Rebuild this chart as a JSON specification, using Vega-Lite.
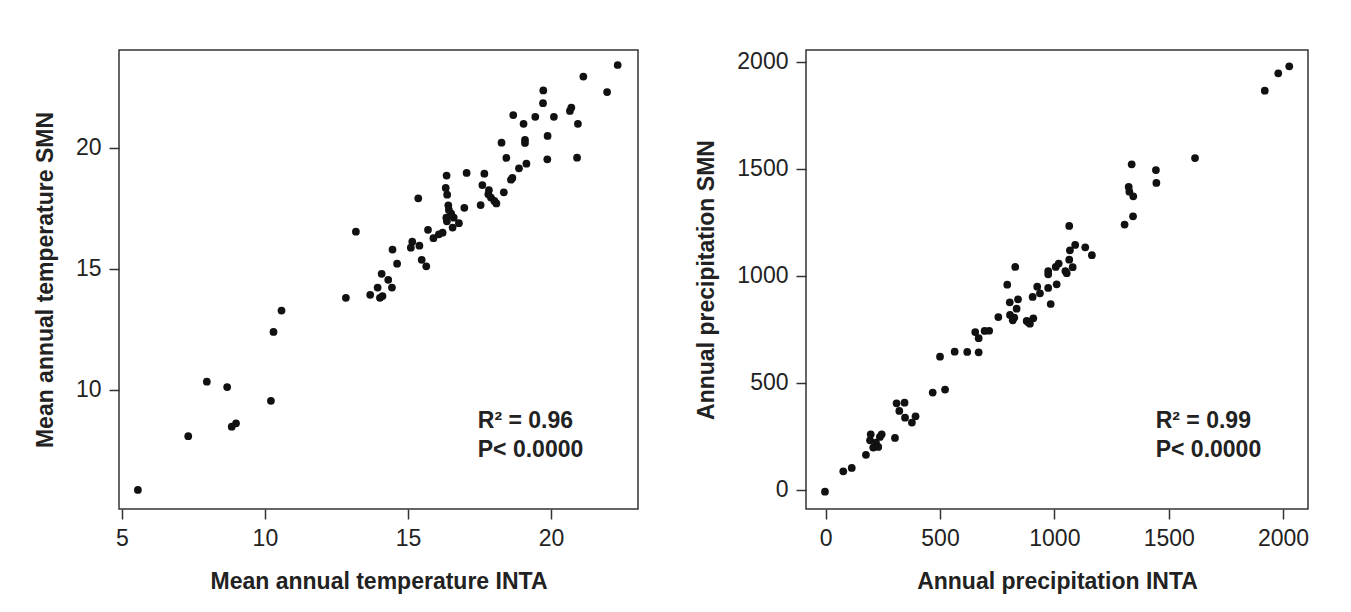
{
  "$schema": "https://vega.github.io/schema/vega-lite/v6.json",
  "background": "white",
  "padding": {"left": 33, "top": 49, "right": 5, "bottom": 5},
  "spacing": 56,
  "datasets": {
    "temp": [
      {"inta":22.33,"smn":23.43},{"inta":21.13,"smn":22.95},{"inta":21.96,"smn":22.31},{"inta":19.73,"smn":22.38},{"inta":19.72,"smn":21.85},{"inta":18.68,"smn":21.36},{"inta":19.45,"smn":21.29},{"inta":20.1,"smn":21.29},{"inta":19.04,"smn":21.0},{"inta":20.71,"smn":21.67},{"inta":20.66,"smn":21.53},{"inta":20.94,"smn":21.0},{"inta":19.88,"smn":20.5},{"inta":19.09,"smn":20.34},{"inta":19.09,"smn":20.21},{"inta":18.27,"smn":20.22},{"inta":18.44,"smn":19.59},{"inta":19.87,"smn":19.53},{"inta":20.91,"smn":19.6},{"inta":19.14,"smn":19.35},{"inta":18.88,"smn":19.16},{"inta":18.65,"smn":18.76},{"inta":18.6,"smn":18.69},{"inta":16.35,"smn":18.86},{"inta":17.05,"smn":18.97},{"inta":17.67,"smn":18.94},{"inta":16.32,"smn":18.35},{"inta":16.37,"smn":18.07},{"inta":17.6,"smn":18.47},{"inta":17.83,"smn":18.26},{"inta":18.35,"smn":18.17},{"inta":17.81,"smn":18.09},{"inta":17.9,"smn":17.95},{"inta":18.02,"smn":17.81},{"inta":18.09,"smn":17.71},{"inta":17.54,"smn":17.64},{"inta":16.97,"smn":17.53},{"inta":15.36,"smn":17.92},{"inta":16.41,"smn":17.63},{"inta":16.43,"smn":17.44},{"inta":16.51,"smn":17.29},{"inta":16.34,"smn":17.12},{"inta":16.36,"smn":16.97},{"inta":16.6,"smn":17.12},{"inta":16.78,"smn":16.89},{"inta":16.56,"smn":16.71},{"inta":16.21,"smn":16.5},{"inta":16.08,"smn":16.43},{"inta":15.89,"smn":16.27},{"inta":15.7,"smn":16.62},{"inta":15.15,"smn":16.13},{"inta":15.1,"smn":15.88},{"inta":15.4,"smn":15.96},{"inta":14.46,"smn":15.8},{"inta":14.62,"smn":15.22},{"inta":15.48,"smn":15.38},{"inta":15.64,"smn":15.11},{"inta":13.18,"smn":16.54},{"inta":14.08,"smn":14.8},{"inta":14.31,"smn":14.55},{"inta":14.44,"smn":14.23},{"inta":13.94,"smn":14.23},{"inta":14.11,"smn":13.88},{"inta":13.68,"smn":13.93},{"inta":14.02,"smn":13.81},{"inta":12.83,"smn":13.81},{"inta":10.58,"smn":13.28},{"inta":10.3,"smn":12.4},{"inta":7.97,"smn":10.34},{"inta":8.68,"smn":10.12},{"inta":10.21,"smn":9.55},{"inta":8.84,"smn":8.48},{"inta":8.99,"smn":8.62},{"inta":7.32,"smn":8.09},{"inta":5.56,"smn":5.87}
    ],
    "precip": [
      {"inta":2027,"smn":1980},{"inta":1979,"smn":1947},{"inta":1920,"smn":1866},{"inta":1615,"smn":1551},{"inta":1338,"smn":1522},{"inta":1444,"smn":1495},{"inta":1446,"smn":1435},{"inta":1325,"smn":1416},{"inta":1328,"smn":1394},{"inta":1345,"smn":1372},{"inta":1344,"smn":1279},{"inta":1307,"smn":1240},{"inta":1065,"smn":1234},{"inta":1091,"smn":1145},{"inta":1135,"smn":1134},{"inta":1164,"smn":1097},{"inta":1068,"smn":1120},{"inta":1065,"smn":1076},{"inta":1080,"smn":1041},{"inta":1048,"smn":1023},{"inta":1054,"smn":1013},{"inta":1019,"smn":1058},{"inta":1006,"smn":1042},{"inta":973,"smn":1023},{"inta":973,"smn":1008},{"inta":829,"smn":1042},{"inta":794,"smn":959},{"inta":1010,"smn":961},{"inta":973,"smn":944},{"inta":925,"smn":950},{"inta":937,"smn":919},{"inta":905,"smn":902},{"inta":984,"smn":869},{"inta":805,"smn":877},{"inta":841,"smn":891},{"inta":835,"smn":847},{"inta":806,"smn":818},{"inta":818,"smn":793},{"inta":825,"smn":805},{"inta":755,"smn":808},{"inta":879,"smn":790},{"inta":886,"smn":784},{"inta":908,"smn":802},{"inta":893,"smn":777},{"inta":715,"smn":744},{"inta":695,"smn":743},{"inta":654,"smn":738},{"inta":669,"smn":709},{"inta":500,"smn":623},{"inta":564,"smn":646},{"inta":619,"smn":645},{"inta":669,"smn":643},{"inta":468,"smn":455},{"inta":522,"smn":469},{"inta":310,"smn":405},{"inta":345,"smn":408},{"inta":322,"smn":369},{"inta":347,"smn":338},{"inta":377,"smn":315},{"inta":393,"smn":344},{"inta":197,"smn":260},{"inta":245,"smn":260},{"inta":194,"smn":232},{"inta":220,"smn":221},{"inta":208,"smn":198},{"inta":230,"smn":201},{"inta":237,"smn":248},{"inta":303,"smn":243},{"inta":176,"smn":164},{"inta":77,"smn":87},{"inta":114,"smn":103},{"inta":-3,"smn":-8}
    ]
  },
  "hconcat": [
    {
      "width": 519,
      "height": 459,
      "layer": [
        {
          "data": {"name": "temp"},
          "mark": {"type": "circle", "color": "#111", "size": 60, "opacity": 1},
          "encoding": {
            "x": {"field": "inta", "type": "quantitative", "title": "Mean annual temperature INTA",
                  "scale": {"domain": [4.9, 23.04], "nice": false, "zero": false},
                  "axis": {"values": [5, 10, 15, 20], "format": "d"}},
            "y": {"field": "smn", "type": "quantitative", "title": "Mean annual temperature SMN",
                  "scale": {"domain": [5.08, 24.05], "nice": false, "zero": false},
                  "axis": {"values": [10, 15, 20], "format": "d"}}
          }
        },
        {
          "data": {"values": [{}]},
          "mark": {"type": "text", "text": ["R² = 0.96", "P< 0.0000"], "align": "left", "baseline": "alphabetic",
                   "font": "Liberation Sans", "fontSize": 23, "fontWeight": "bold", "color": "#222", "lineHeight": 29},
          "encoding": {"x": {"datum": 17.44}, "y": {"datum": 8.44}}
        }
      ]
    },
    {
      "width": 502,
      "height": 459,
      "layer": [
        {
          "data": {"name": "precip"},
          "mark": {"type": "circle", "color": "#111", "size": 60, "opacity": 1},
          "encoding": {
            "x": {"field": "inta", "type": "quantitative", "title": "Annual precipitation INTA",
                  "scale": {"domain": [-86, 2109], "nice": false, "zero": false},
                  "axis": {"values": [0, 500, 1000, 1500, 2000], "format": "d"}},
            "y": {"field": "smn", "type": "quantitative", "title": "Annual precipitation SMN",
                  "scale": {"domain": [-89, 2056], "nice": false, "zero": false},
                  "axis": {"values": [0, 500, 1000, 1500, 2000], "format": "d"}}
          }
        },
        {
          "data": {"values": [{}]},
          "mark": {"type": "text", "text": ["R² = 0.99", "P< 0.0000"], "align": "left", "baseline": "alphabetic",
                   "font": "Liberation Sans", "fontSize": 23, "fontWeight": "bold", "color": "#222", "lineHeight": 29},
          "encoding": {"x": {"datum": 1443}, "y": {"datum": 291}}
        }
      ]
    }
  ],
  "config": {
    "view": {"stroke": "#333", "strokeWidth": 1.5},
    "axis": {
      "domain": false, "grid": false, "ticks": true, "tickSize": 10, "tickColor": "#333", "tickWidth": 1.5,
      "labelFont": "Liberation Sans", "labelFontSize": 23, "labelColor": "#222", "labelPadding": 8, "labelFlush": false,
      "titleFont": "Liberation Sans", "titleFontSize": 23, "titleFontWeight": "bold", "titleColor": "#222"
    },
    "axisX": {"titlePadding": 20},
    "axisY": {"titlePadding": 18}
  }
}
